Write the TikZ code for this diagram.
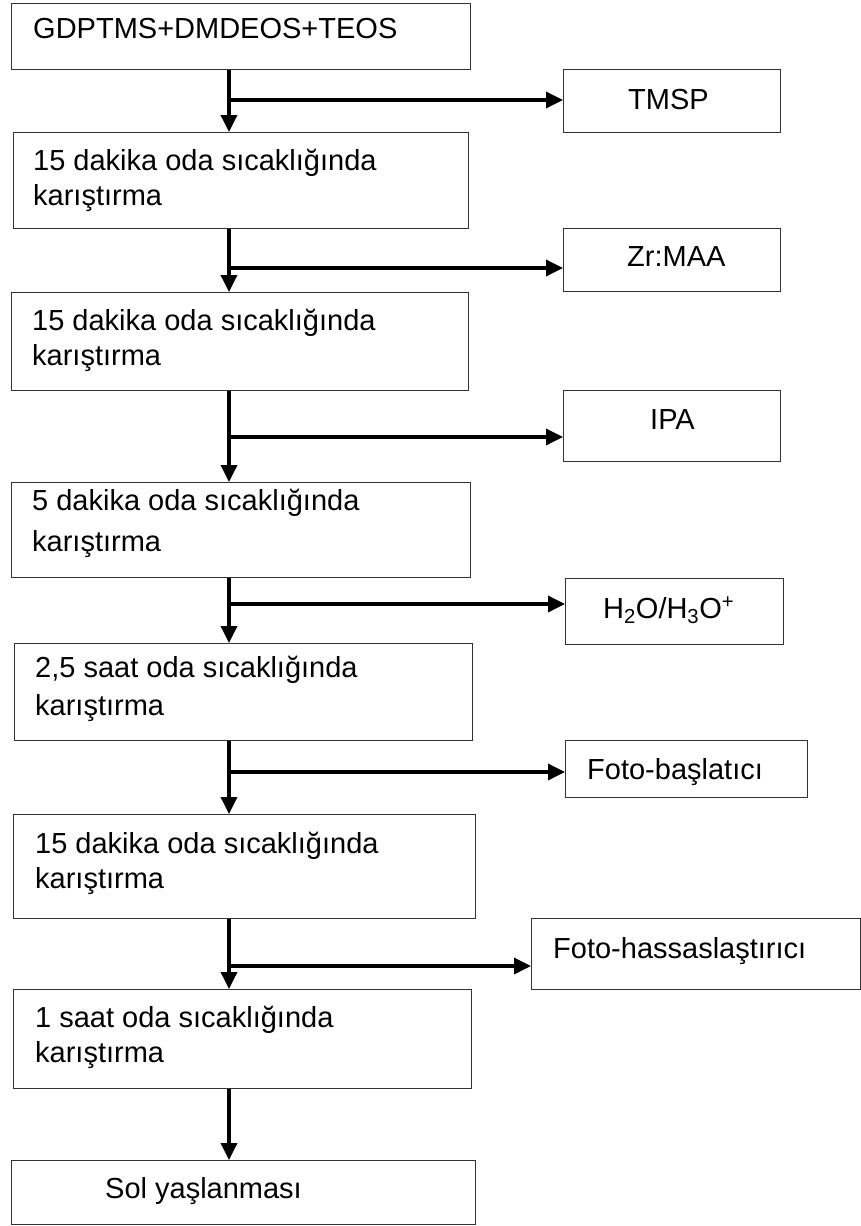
\documentclass[tikz,border=0pt]{standalone}
\usepackage{fontspec}
\setmainfont{Liberation Sans}
\usetikzlibrary{arrows.meta}
\tikzset{
  box/.style={draw=black!80, line width=1.3pt, inner sep=0pt, anchor=north west},
  txt/.style={inner sep=0pt, anchor=base west, align=left, font=\fontsize{29}{35}\selectfont},
  arr/.style={line width=3.5pt, -{Triangle[length=17pt,width=16pt]}},
}
\begin{document}
\begin{tikzpicture}[x=1pt,y=-1pt]
\useasboundingbox (0,0) rectangle (861,1226);
% main boxes
\node[box, minimum width=459pt, minimum height=66pt] (B1) at (11,3) {};
\node[box, minimum width=455pt, minimum height=96pt] (B2) at (13,132) {};
\node[box, minimum width=457pt, minimum height=98pt] (B3) at (11,292) {};
\node[box, minimum width=459pt, minimum height=95pt] (B4) at (11,482) {};
\node[box, minimum width=458pt, minimum height=97pt] (B5) at (14,643) {};
\node[box, minimum width=462pt, minimum height=104pt] (B6) at (13,814) {};
\node[box, minimum width=458pt, minimum height=99pt] (B7) at (13,989) {};
\node[box, minimum width=464pt, minimum height=64pt] (B8) at (11,1160) {};
% side boxes
\node[box, minimum width=217pt, minimum height=63pt] (R1) at (563,69) {};
\node[box, minimum width=217pt, minimum height=63pt] (R2) at (563,228) {};
\node[box, minimum width=217pt, minimum height=71pt] (R3) at (563,390) {};
\node[box, minimum width=218pt, minimum height=66pt] (R4) at (565,578) {};
\node[box, minimum width=242pt, minimum height=57pt] (R5) at (565,740) {};
\node[box, minimum width=329pt, minimum height=71pt] (R6) at (531,918) {};
% texts (anchor = baseline of the last line)
\node[txt] (t1) at (33,38) {GDPTMS+DMDEOS+TEOS};
\node[txt] (t2) at (33,205) {15 dakika oda sıcaklığında\\karıştırma};
\node[txt] (t3) at (32,365) {15 dakika oda sıcaklığında\\karıştırma};
\node[txt] (t4) at (32,551) {5 dakika oda sıcaklığında\\[6pt]karıştırma};
\node[txt] (t5) at (35,715) {2,5 saat oda sıcaklığında\\[3pt]karıştırma};
\node[txt] (t6) at (35,888) {15 dakika oda sıcaklığında\\karıştırma};
\node[txt] (t7) at (35,1062) {1 saat oda sıcaklığında\\karıştırma};
\node[txt] (t8) at (105,1198) {Sol yaşlanması};
\node[txt] (s1) at (628,109) {TMSP};
\node[txt] (s2) at (627,266) {Zr:MAA};
\node[txt] (s3) at (650,429) {IPA};
\node[txt] (s4) at (603,618) {H\textsubscript{2}O/H\textsubscript{3}O\textsuperscript{+}};
\node[txt] (s5) at (587,779) {Foto-başlatıcı};
\node[txt] (s6) at (553,958) {Foto-hassaslaştırıcı};
% junctions
\coordinate (j1) at (229,100);
\coordinate (j2) at (229,268);
\coordinate (j3) at (229,437);
\coordinate (j4) at (229,604);
\coordinate (j5) at (229,772);
\coordinate (j6) at (229,966);
% vertical arrows
\draw[arr] (B1.south -| j1) -- (B2.north -| j1);
\draw[arr] (B2.south -| j1) -- (B3.north -| j1);
\draw[arr] (B3.south -| j1) -- (B4.north -| j1);
\draw[arr] (B4.south -| j1) -- (B5.north -| j1);
\draw[arr] (B5.south -| j1) -- (B6.north -| j1);
\draw[arr] (B6.south -| j1) -- (B7.north -| j1);
\draw[arr] (B7.south -| j1) -- (B8.north -| j1);
% side arrows
\draw[arr] (j1) -- (j1 -| R1.west);
\draw[arr] (j2) -- (j2 -| R2.west);
\draw[arr] (j3) -- (j3 -| R3.west);
\draw[arr] (j4) -- (j4 -| R4.west);
\draw[arr] (j5) -- (j5 -| R5.west);
\draw[arr] (j6) -- (j6 -| R6.west);
\end{tikzpicture}
\end{document}
